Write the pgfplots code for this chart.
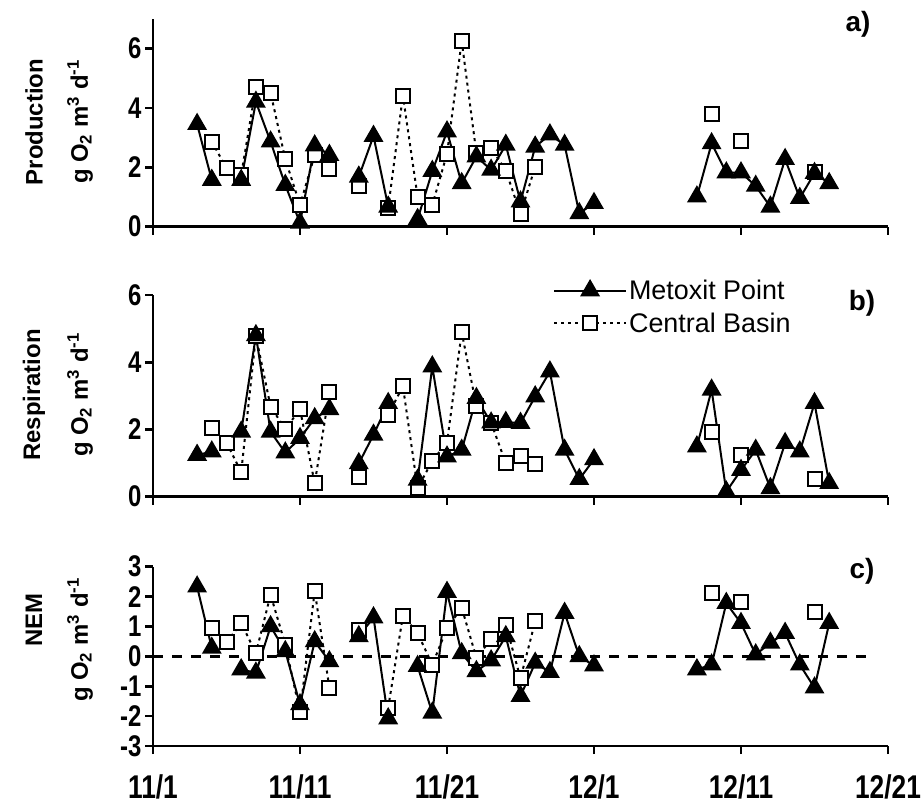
\documentclass[border=0pt]{standalone}
\usepackage{fontspec}
\setmainfont{Liberation Sans}
\newfontfamily\narrowfont{Liberation Sans}[FakeStretch=0.8]
\usepackage{pgfplots}
\pgfplotsset{compat=1.18}

\pgfplotsset{
 panel/.style={
   scale only axis, width=735bp, xmin=0, xmax=50,
   axis x line*=bottom, axis y line*=left,
   axis line style={line width=2.6bp,-},
   major tick style={line width=2.6bp, black},
   tick align=outside, major tick length=8bp,
   xtick={0,10,20,30,40,50},
   unbounded coords=jump,
   clip=false,
   tick label style={font=\narrowfont\bfseries\fontsize{30}{30}\selectfont},
 },
 mp/.style={black, line width=2bp, mark=triangle*, mark size=9.5bp, mark options={solid, fill=black}},
 cb/.style={black, line width=2bp, dash pattern=on 3bp off 4bp, mark=square*, mark size=7bp, mark options={solid, fill=white, line width=2bp}},
}

\begin{document}
\begin{tikzpicture}
\path[use as bounding box] (0bp,0bp) rectangle (922bp,807bp);

% ---------- a) Production
\begin{axis}[panel, at={(153bp,580.3bp)}, anchor=south west, height=208bp,
  ymin=0, ymax=7, ytick={0,2,4,6}, yticklabels={0,2,4,6}, xticklabels={}]
\addplot[cb] coordinates {(4,2.86)(5,1.97)(6,1.74)(7,4.69)(8,4.51)(9,2.27)(10,0.73)(11,2.41)(12,1.94)(13,nan)(14,1.38)(15,nan)(16,0.64)(17,4.41)(18,1.01)(19,0.73)(20,2.45)(21,6.25)(22,2.47)(23,2.66)(24,1.89)(25,0.43)(26,2.02)(27,nan)(38,3.79)(39,nan)(40,2.9)(41,nan)(45,1.85)};
\addplot[mp] coordinates {(3,3.45)(4,1.57)(5,nan)(6,1.57)(7,4.2)(8,2.86)(9,1.4)(10,0.13)(11,2.73)(12,2.41)(13,nan)(14,1.68)(15,3.05)(16,0.67)(17,nan)(18,0.25)(19,1.87)(20,3.2)(21,1.46)(22,2.36)(23,1.91)(24,2.75)(25,0.84)(26,2.69)(27,3.1)(28,2.75)(29,0.45)(30,0.79)(31,nan)(37,1.01)(38,2.8)(39,1.82)(40,1.82)(41,1.37)(42,0.67)(43,2.27)(44,0.96)(45,1.8)(46,1.46)};
\end{axis}

% ---------- b) Respiration
\begin{axis}[panel, at={(153bp,310.3bp)}, anchor=south west, height=201.7bp,
  ymin=0, ymax=6, ytick={0,2,4,6}, yticklabels={0,2,4,6}, xticklabels={},
  reverse legend,
  legend style={draw=none, fill=none, at={(0.54,1.095)}, anchor=north west,
    font=\fontsize{27}{27}\selectfont, row sep=8bp, cells={anchor=west}},
  legend image code/.code={\draw[mark repeat=2,mark phase=2] plot coordinates {(0bp,0bp) (36bp,0bp) (72bp,0bp)};}]
\addplot[cb] coordinates {(4,2.04)(5,1.61)(6,0.73)(7,4.78)(8,2.68)(9,2.01)(10,2.6)(11,0.4)(12,3.1)(13,nan)(14,0.6)(15,nan)(16,2.43)(17,3.29)(18,0.25)(19,1.07)(20,1.61)(21,4.89)(22,2.7)(23,2.2)(24,1.0)(25,1.2)(26,0.97)(27,nan)(38,1.91)(39,nan)(40,1.24)(41,nan)(45,0.52)};
\addlegendentry{Central Basin}
\addplot[mp] coordinates {(3,1.24)(4,1.34)(5,nan)(6,1.93)(7,4.8)(8,1.93)(9,1.31)(10,1.74)(11,2.33)(12,2.6)(13,nan)(14,0.99)(15,1.84)(16,2.78)(17,nan)(18,0.5)(19,3.87)(20,1.19)(21,1.39)(22,2.93)(23,2.2)(24,2.22)(25,2.19)(26,2.98)(27,3.72)(28,1.39)(29,0.52)(30,1.11)(31,nan)(37,1.49)(38,3.18)(39,0.15)(40,0.79)(41,1.39)(42,0.25)(43,1.59)(44,1.34)(45,2.78)(46,0.4)};
\addlegendentry{Metoxit Point}
\end{axis}

% ---------- c) NEM
\begin{axis}[panel, at={(153bp,61bp)}, anchor=south west, height=179.3bp,
  ymin=-3, ymax=3, ytick={-3,-2,-1,0,1,2,3}, yticklabels={-3,-2,-1,0,1,2,3},
  xticklabels={11/1,11/11,11/21,12/1,12/11,12/21},
  xticklabel style={yshift=-17bp, font=\narrowfont\bfseries\fontsize{33}{33}\selectfont}]
\addplot[black, line width=3.2bp, dash pattern=on 10bp off 9bp, forget plot] coordinates {(0,0) (48.8,0)};
\addplot[cb] coordinates {(4,0.95)(5,0.47)(6,1.11)(7,0.11)(8,2.06)(9,0.39)(10,-1.87)(11,2.19)(12,-1.05)(13,nan)(14,0.89)(15,nan)(16,-1.72)(17,1.36)(18,0.78)(19,-0.28)(20,0.94)(21,1.63)(22,-0.05)(23,0.57)(24,1.06)(25,-0.74)(26,1.17)(27,nan)(38,2.11)(39,nan)(40,1.83)(41,nan)(45,1.47)};
\addplot[mp] coordinates {(3,2.33)(4,0.28)(5,nan)(6,-0.44)(7,-0.55)(8,1.0)(9,0.17)(10,-1.61)(11,0.5)(12,-0.17)(13,nan)(14,0.67)(15,1.3)(16,-2.08)(17,nan)(18,-0.33)(19,-1.89)(20,2.15)(21,0.1)(22,-0.5)(23,-0.14)(24,0.67)(25,-1.33)(26,-0.22)(27,-0.53)(28,1.45)(29,0.0)(30,-0.31)(31,nan)(37,-0.44)(38,-0.28)(39,1.78)(40,1.11)(41,0.06)(42,0.45)(43,0.78)(44,-0.28)(45,-1.05)(46,1.11)};
\end{axis}

% panel letters
\node[font=\bfseries\fontsize{28}{28}\selectfont] at (858bp,783bp) {a)};
\node[font=\bfseries\fontsize{28}{28}\selectfont] at (862bp,504bp) {b)};
\node[font=\bfseries\fontsize{28}{28}\selectfont] at (862bp,236bp) {c)};

% y labels
\node[rotate=90, font=\bfseries\fontsize{24}{24}\selectfont] at (34bp,685bp) {Production};
\node[rotate=90, font=\bfseries\fontsize{24}{24}\selectfont] at (80bp,685bp) {g O\textsubscript{2} m\textsuperscript{3} d\textsuperscript{-1}};
\node[rotate=90, font=\bfseries\fontsize{24}{24}\selectfont] at (34bp,412bp) {Respiration};
\node[rotate=90, font=\bfseries\fontsize{24}{24}\selectfont] at (80bp,412bp) {g O\textsubscript{2} m\textsuperscript{3} d\textsuperscript{-1}};
\node[rotate=90, font=\bfseries\fontsize{24}{24}\selectfont] at (34bp,187bp) {NEM};
\node[rotate=90, font=\bfseries\fontsize{24}{24}\selectfont] at (80bp,167bp) {g O\textsubscript{2} m\textsuperscript{3} d\textsuperscript{-1}};
\end{tikzpicture}
\end{document}
